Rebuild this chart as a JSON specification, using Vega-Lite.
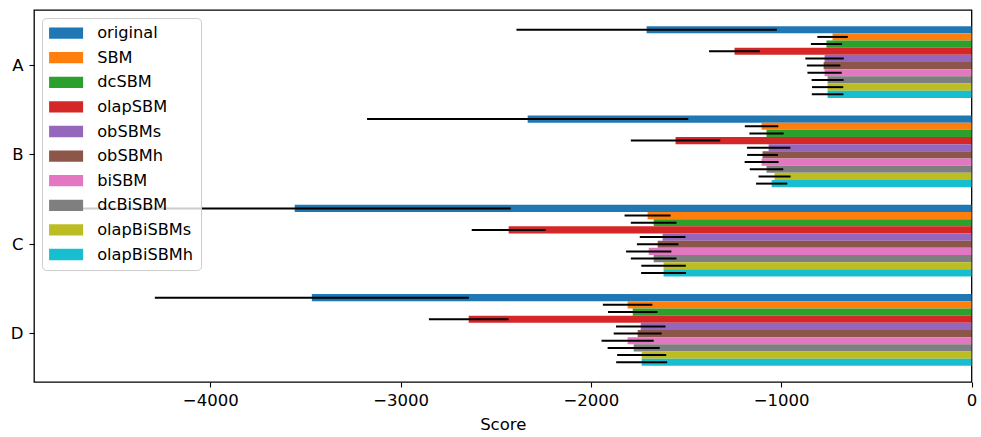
{
  "$schema": "https://vega.github.io/schema/vega-lite/v6.json",
  "width": 937.5,
  "height": 372,
  "autosize": "none",
  "padding": {"left": 34, "top": 10, "right": 9.5, "bottom": 55},
  "config": {
    "font": "DejaVu Sans",
    "view": {"stroke": "black", "strokeWidth": 1.3},
    "axis": {
      "domain": false,
      "grid": false,
      "tickColor": "black",
      "tickWidth": 1.1,
      "tickSize": 5,
      "labelColor": "black",
      "labelFontSize": 16.5,
      "labelFlush": false,
      "titleColor": "black",
      "titleFontSize": 16.5,
      "titleFontWeight": "normal"
    }
  },
  "datasets": {
    "scores": [
      {"group": "A", "method": "original", "score": -1707, "lo": -2391, "hi": -1023},
      {"group": "A", "method": "SBM", "score": -730, "lo": -810, "hi": -650},
      {"group": "A", "method": "dcSBM", "score": -762, "lo": -844, "hi": -680},
      {"group": "A", "method": "olapSBM", "score": -1245, "lo": -1379, "hi": -1111},
      {"group": "A", "method": "obSBMs", "score": -772, "lo": -873, "hi": -671},
      {"group": "A", "method": "obSBMh", "score": -777, "lo": -865, "hi": -689},
      {"group": "A", "method": "biSBM", "score": -772, "lo": -862, "hi": -682},
      {"group": "A", "method": "dcBiSBM", "score": -756, "lo": -840, "hi": -672},
      {"group": "A", "method": "olapBiSBMs", "score": -756, "lo": -838, "hi": -674},
      {"group": "A", "method": "olapBiSBMh", "score": -756, "lo": -839, "hi": -673},

      {"group": "B", "method": "original", "score": -2332, "lo": -3176, "hi": -1488},
      {"group": "B", "method": "SBM", "score": -1103, "lo": -1191, "hi": -1015},
      {"group": "B", "method": "dcSBM", "score": -1077, "lo": -1167, "hi": -987},
      {"group": "B", "method": "olapSBM", "score": -1555, "lo": -1790, "hi": -1320},
      {"group": "B", "method": "obSBMs", "score": -1066, "lo": -1180, "hi": -952},
      {"group": "B", "method": "obSBMh", "score": -1098, "lo": -1179, "hi": -1017},
      {"group": "B", "method": "biSBM", "score": -1103, "lo": -1192, "hi": -1014},
      {"group": "B", "method": "dcBiSBM", "score": -1077, "lo": -1165, "hi": -989},
      {"group": "B", "method": "olapBiSBMs", "score": -1035, "lo": -1119, "hi": -951},
      {"group": "B", "method": "olapBiSBMh", "score": -1050, "lo": -1132, "hi": -968},

      {"group": "C", "method": "original", "score": -3556, "lo": -4691, "hi": -2421},
      {"group": "C", "method": "SBM", "score": -1702, "lo": -1823, "hi": -1581},
      {"group": "C", "method": "dcSBM", "score": -1670, "lo": -1790, "hi": -1550},
      {"group": "C", "method": "olapSBM", "score": -2432, "lo": -2626, "hi": -2238},
      {"group": "C", "method": "obSBMs", "score": -1623, "lo": -1743, "hi": -1503},
      {"group": "C", "method": "obSBMh", "score": -1649, "lo": -1758, "hi": -1540},
      {"group": "C", "method": "biSBM", "score": -1696, "lo": -1815, "hi": -1577},
      {"group": "C", "method": "dcBiSBM", "score": -1670, "lo": -1790, "hi": -1550},
      {"group": "C", "method": "olapBiSBMs", "score": -1618, "lo": -1735, "hi": -1501},
      {"group": "C", "method": "olapBiSBMh", "score": -1618, "lo": -1736, "hi": -1500},

      {"group": "D", "method": "original", "score": -3466, "lo": -4291, "hi": -2641},
      {"group": "D", "method": "SBM", "score": -1807, "lo": -1937, "hi": -1677},
      {"group": "D", "method": "dcSBM", "score": -1780, "lo": -1910, "hi": -1650},
      {"group": "D", "method": "olapSBM", "score": -2642, "lo": -2851, "hi": -2433},
      {"group": "D", "method": "obSBMs", "score": -1738, "lo": -1868, "hi": -1608},
      {"group": "D", "method": "obSBMh", "score": -1754, "lo": -1880, "hi": -1628},
      {"group": "D", "method": "biSBM", "score": -1807, "lo": -1944, "hi": -1670},
      {"group": "D", "method": "dcBiSBM", "score": -1775, "lo": -1912, "hi": -1638},
      {"group": "D", "method": "olapBiSBMs", "score": -1733, "lo": -1862, "hi": -1604},
      {"group": "D", "method": "olapBiSBMh", "score": -1733, "lo": -1867, "hi": -1599}
    ]
  },
  "data": {"name": "scores"},
  "encoding": {
    "y": {
      "field": "group",
      "type": "nominal",
      "title": null,
      "scale": {"paddingInner": 0.197, "paddingOuter": 0.181},
      "axis": {"labelAngle": 0, "labelPadding": 6, "bandPosition": 0.55, "labelOffset": 4}
    },
    "yOffset": {
      "field": "method",
      "type": "nominal",
      "sort": ["original", "SBM", "dcSBM", "olapSBM", "obSBMs", "obSBMh", "biSBM", "dcBiSBM", "olapBiSBMs", "olapBiSBMh"],
      "scale": {"paddingInner": 0, "paddingOuter": 0}
    }
  },
  "layer": [
    {
      "mark": {"type": "bar"},
      "encoding": {
        "x": {
          "field": "score",
          "type": "quantitative",
          "title": "Score",
          "scale": {"domain": [-4926, 0], "nice": false, "zero": false},
          "axis": {"values": [-4000, -3000, -2000, -1000, 0], "format": "d", "labelPadding": 5, "titlePadding": 8}
        },
        "color": {
          "field": "method",
          "type": "nominal",
          "sort": ["original", "SBM", "dcSBM", "olapSBM", "obSBMs", "obSBMh", "biSBM", "dcBiSBM", "olapBiSBMs", "olapBiSBMh"],
          "scale": {
            "domain": ["original", "SBM", "dcSBM", "olapSBM", "obSBMs", "obSBMh", "biSBM", "dcBiSBM", "olapBiSBMs", "olapBiSBMh"],
            "range": ["#1f77b4", "#ff7f0e", "#2ca02c", "#d62728", "#9467bd", "#8c564b", "#e377c2", "#7f7f7f", "#bcbd22", "#17becf"]
          },
          "legend": {
            "title": null,
            "orient": "top-left",
            "offset": 8,
            "padding": 7,
            "zindex": 1,
            "symbolType": "M-2.125,-0.706H2.125V0.706H-2.125Z",
            "symbolSize": 256,
            "symbolOffset": 9,
            "symbolOpacity": 1,
            "symbolStrokeWidth": 0,
            "labelFontSize": 16.2,
            "labelColor": "black",
            "labelOffset": 23,
            "rowPadding": 7.6,
            "strokeColor": "#cccccc",
            "fillColor": "rgba(255,255,255,0.8)",
            "cornerRadius": 4
          }
        }
      }
    },
    {
      "mark": {"type": "rule", "color": "black", "strokeWidth": 2},
      "encoding": {
        "x": {"field": "lo", "type": "quantitative"},
        "x2": {"field": "hi"}
      }
    }
  ]
}
